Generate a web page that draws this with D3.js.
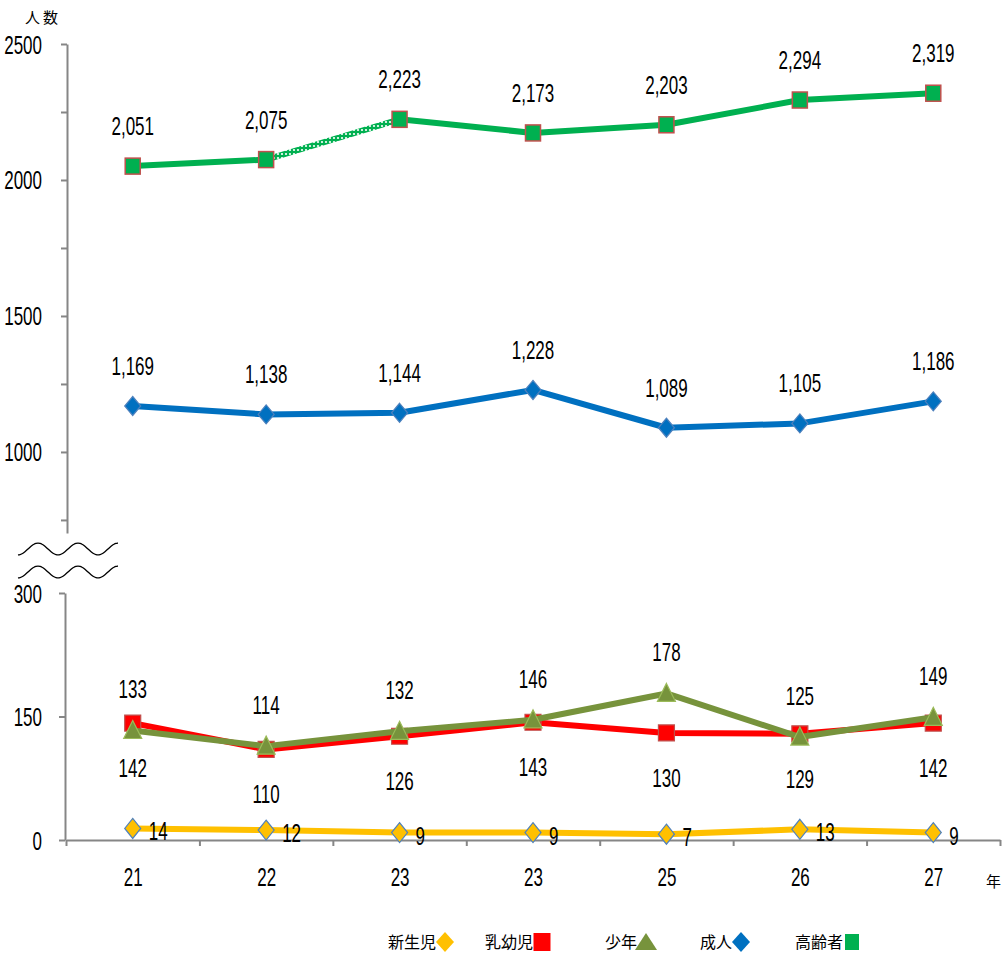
<!DOCTYPE html>
<html>
<head>
<meta charset="utf-8">
<script src="https://cdn.jsdelivr.net/npm/d3@7"></script>
<style>
  body { margin: 0; background: #fff; }
  text { font-family: "Liberation Sans", Arial, sans-serif; }
  .cjk { font-family: "Noto Sans CJK JP", sans-serif; }
</style>
</head>
<body>
<div id="chart"></div>
<script>
const years = ['21', '22', '23', '23', '25', '26', '27'];

const elderly = [2051, 2075, 2223, 2173, 2203, 2294, 2319];
const adult = [1169, 1138, 1144, 1228, 1089, 1105, 1186];
const infant = [142, 110, 126, 143, 130, 129, 142];
const youth = [133, 114, 132, 146, 178, 125, 149];
const newborn = [14, 12, 9, 9, 7, 13, 9];

const upperTicks = [750, 1000, 1250, 1500, 1750, 2000, 2250, 2500];
const lowerTicks = [0, 150, 300];

const width = 1004;
const height = 954;
const squeezeX = 0.68; // narrow look of the numbers

const svg = d3.select('#chart')
    .append('svg')
    .attr('width', width)
    .attr('height', height);

// hatched segment pattern
const defs = svg.append('defs');
const pat = defs.append('pattern')
    .attr('id', 'hatch')
    .attr('patternUnits', 'userSpaceOnUse')
    .attr('width', 4)
    .attr('height', 4);
pat.append('rect').attr('width', 4).attr('height', 4).attr('fill', '#00B050');
pat.append('circle').attr('cx', 2).attr('cy', 2).attr('r', 1.1).attr('fill', '#fff');

const xScale = d3.scaleLinear()
    .domain([-0.5, 6.5])
    .range([66, 1000]);

const yHigh = d3.scaleLinear()
    .domain([702, 2500])
    .range([533, 44]);

const yLow = d3.scaleLinear()
    .domain([0, 300])
    .range([840, 593]);

// turn the x attribute of a text into a squeezed transform
function squeeze(sel) {
    sel.each(function () {
        const t = d3.select(this);
        const x = +t.attr('x') || 0;
        const y = +t.attr('y') || 0;
        t.attr('x', null).attr('y', null)
            .attr('transform', `translate(${x},${y}) scale(${squeezeX},1)`);
    });
}

// upper y axis
const yAxisHigh = d3.axisLeft(yHigh)
    .tickValues(upperTicks)
    .tickSize(6)
    .tickSizeOuter(0)
    .tickPadding(19)
    .tickFormat(d => d % 500 === 0 ? d : '');

svg.append('g')
    .attr('class', 'y-axis')
    .attr('transform', 'translate(67,0)')
    .call(yAxisHigh);

// lower y axis
const yAxisLow = d3.axisLeft(yLow)
    .tickValues(lowerTicks)
    .tickSize(6)
    .tickSizeOuter(0)
    .tickPadding(17);

svg.append('g')
    .attr('class', 'y-axis')
    .attr('transform', 'translate(65,0)')
    .call(yAxisLow);

// x axis: ticks between categories
const xAxis = d3.axisBottom(xScale)
    .tickValues(d3.range(7).map(i => i + 0.5).concat([-0.5]))
    .tickSize(6)
    .tickSizeOuter(0)
    .tickFormat('');

svg.append('g')
    .attr('class', 'x-axis')
    .attr('transform', 'translate(0,840)')
    .call(xAxis);

const xLabels = d3.axisBottom(xScale)
    .tickValues(d3.range(7))
    .tickSize(0)
    .tickPadding(28)
    .tickFormat(i => years[i]);

svg.append('g')
    .attr('class', 'x-labels')
    .attr('transform', 'translate(0,840)')
    .call(xLabels)
    .call(g => g.select('.domain').remove());

svg.selectAll('.domain, .tick line')
    .attr('stroke', '#868686')
    .attr('stroke-width', 2);

svg.selectAll('.tick text')
    .attr('font-size', 25)
    .attr('fill', '#000')
    .attr('font-family', '"Liberation Sans", Arial, sans-serif');

svg.selectAll('.y-axis .tick text').attr('dy', '0.36em');
svg.selectAll('.tick text').call(squeeze);

// unit labels
svg.append('text')
    .attr('class', 'cjk')
    .attr('x', 25)
    .attr('y', 23)
    .attr('font-size', 15)
    .attr('letter-spacing', 3)
    .text('人数');

svg.append('text')
    .attr('class', 'cjk')
    .attr('x', 986)
    .attr('y', 887)
    .attr('font-size', 15)
    .text('年');

// axis break marks
const wave = d3.line()
    .x(d => d[0])
    .y(d => d[1])
    .curve(d3.curveBasis);

[549, 572].forEach(cy => {
    const pts = d3.range(0, 101, 2).map(t => [18 + t, cy - 6 * Math.sin((t - 10) / 40 * 2 * Math.PI)]);
    svg.append('path')
        .attr('d', wave(pts))
        .attr('fill', 'none')
        .attr('stroke', '#000')
        .attr('stroke-width', 1.3);
});

const lineGen = y => d3.line()
    .x((d, i) => xScale(i))
    .y(d => y(d));

const diamondPath = (w, h) => `M0,${-h / 2}L${w / 2},0L0,${h / 2}L${-w / 2},0Z`;

function drawSeries(values, y, color, marker) {
    svg.append('path')
        .datum(values)
        .attr('d', lineGen(y))
        .attr('fill', 'none')
        .attr('stroke', color)
        .attr('stroke-width', 6)
        .attr('stroke-linejoin', 'round');
    svg.append('g')
        .selectAll('path')
        .data(values)
        .enter()
        .append('path')
        .attr('transform', (d, i) => `translate(${xScale(i)},${y(d)})`)
        .attr('d', marker.d)
        .attr('fill', marker.fill)
        .attr('stroke', marker.stroke)
        .attr('stroke-width', marker.sw || 1.2);
}

function drawLabels(values, y, dx, dy, anchor) {
    svg.append('g')
        .selectAll('text')
        .data(values)
        .enter()
        .append('text')
        .text(d => d3.format(',')(d))
        .attr('x', (d, i) => xScale(i) + dx)
        .attr('y', d => y(d) + dy)
        .attr('text-anchor', anchor)
        .attr('font-size', 25)
        .attr('fill', '#000')
        .call(squeeze);
}

// 高齢者 with hatched segment between 22 and 23
svg.append('path')
    .datum(elderly.slice(0, 2))
    .attr('d', lineGen(yHigh))
    .attr('fill', 'none')
    .attr('stroke', '#00B050')
    .attr('stroke-width', 6);
svg.append('path')
    .datum(elderly.slice(1, 3))
    .attr('d', d3.line().x((d, i) => xScale(i + 1)).y(d => yHigh(d)))
    .attr('fill', 'none')
    .attr('stroke', 'url(#hatch)')
    .attr('stroke-width', 6);
svg.append('path')
    .datum(elderly.slice(2))
    .attr('d', d3.line().x((d, i) => xScale(i + 2)).y(d => yHigh(d)))
    .attr('fill', 'none')
    .attr('stroke', '#00B050')
    .attr('stroke-width', 6)
    .attr('stroke-linejoin', 'round');
svg.append('g')
    .selectAll('rect')
    .data(elderly)
    .enter()
    .append('rect')
    .attr('x', (d, i) => xScale(i) - 7.5)
    .attr('y', d => yHigh(d) - 8)
    .attr('width', 15)
    .attr('height', 16)
    .attr('fill', '#00B050')
    .attr('stroke', '#C0504D')
    .attr('stroke-width', 1.5);
drawLabels(elderly, yHigh, 0, -31, 'middle');

// 成人
drawSeries(adult, yHigh, '#0070C0', { d: diamondPath(16, 19), fill: '#0070C0', stroke: '#4F81BD' });
drawLabels(adult, yHigh, 0, -31, 'middle');

// 乳幼児
drawSeries(infant, yLow, '#FF0000', { d: 'M-8,-8H8V8H-8Z', fill: '#FF0000', stroke: '#C0504D' });
drawLabels(infant, yLow, 0, 54, 'middle');

// 少年
drawSeries(youth, yLow, '#77933C', { d: 'M0,-10L9,8H-9Z', fill: '#77933C', stroke: '#9BBB59' });
drawLabels(youth, yLow, 0, -32, 'middle');

// 新生児
drawSeries(newborn, yLow, '#FFC000', { d: diamondPath(16, 20), fill: '#FFC000', stroke: '#4F81BD' });
drawLabels(newborn, yLow, 16, 12, 'start');

// legend
const legendItems = [
    { name: '新生児', x: 388, d: diamondPath(18, 20), fill: '#FFC000' },
    { name: '乳幼児', x: 485, d: 'M-8.5,-9H8.5V9H-8.5Z', fill: '#FF0000' },
    { name: '少年', x: 605, d: 'M0,-9L11,8H-11Z', fill: '#77933C' },
    { name: '成人', x: 700, d: diamondPath(18, 20), fill: '#0070C0' },
    { name: '高齢者', x: 795, d: 'M-7,-8H7V8H-7Z', fill: '#00B050' }
];

const legend = svg.append('g')
    .selectAll('g')
    .data(legendItems)
    .enter()
    .append('g')
    .attr('transform', d => `translate(${d.x},942)`);

legend.append('text')
    .attr('class', 'cjk')
    .attr('y', 6)
    .attr('font-size', 16)
    .text(d => d.name);

legend.append('path')
    .attr('transform', d => `translate(${d.name.length * 16 + 9},0)`)
    .attr('d', d => d.d)
    .attr('fill', d => d.fill);
</script>
</body>
</html>
